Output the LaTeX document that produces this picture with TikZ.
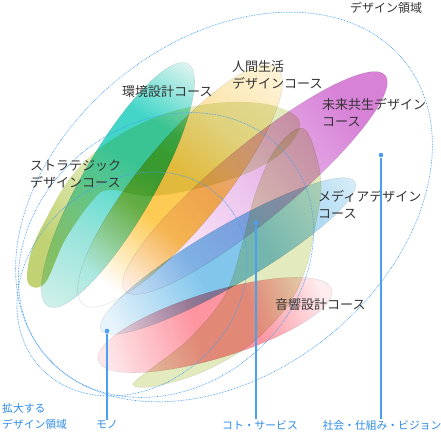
\documentclass[tikz,border=0pt]{standalone}
\usepackage{fontspec}
\newfontfamily\jpfont{Noto Sans CJK JP}
\definecolor{dotblue}{HTML}{4A9FF2}
\definecolor{labelblue}{HTML}{2E8BE6}
\definecolor{labelgray}{HTML}{333333}
\definecolor{paleolive}{HTML}{E2EABA}
\definecolor{midolive}{HTML}{D3DF98}
\definecolor{deepolive}{HTML}{BDD06C}
\definecolor{kk1}{HTML}{CDEFE9}\definecolor{kk2}{HTML}{8FE2D8}\definecolor{kk3}{HTML}{38D3C5}\definecolor{kk4}{HTML}{DDF3EF}
\definecolor{ng1}{HTML}{FFFFFF}\definecolor{ng2}{HTML}{FDC84A}\definecolor{ng3}{HTML}{FCE3A4}\definecolor{ng4}{HTML}{FDF3D8}
\definecolor{mr1}{HTML}{FDF5FD}\definecolor{mr2}{HTML}{ECC2EC}\definecolor{mr3}{HTML}{D57AD5}
\definecolor{md1}{HTML}{E6F3FB}\definecolor{md2}{HTML}{7CC3EB}\definecolor{md3}{HTML}{D6ECF8}
\definecolor{ok1}{HTML}{FDE6E9}\definecolor{ok2}{HTML}{FD8F9C}\definecolor{ok3}{HTML}{FDECEE}
\pgfdeclarehorizontalshading{oliveshade}{100bp}{color(0bp)=(deepolive); color(25bp)=(deepolive); color(36bp)=(midolive); color(46bp)=(paleolive); color(100bp)=(paleolive)}
\pgfdeclarehorizontalshading{kankyoshade}{100bp}{color(0bp)=(kk1); color(25bp)=(kk1); color(40bp)=(kk2); color(55bp)=(kk3); color(63bp)=(kk3); color(75bp)=(kk4); color(100bp)=(kk4)}
\pgfdeclarehorizontalshading{ningenshade}{100bp}{color(0bp)=(ng1); color(30bp)=(ng1); color(43bp)=(ng2); color(52bp)=(ng2); color(62bp)=(ng3); color(75bp)=(ng4); color(100bp)=(ng4)}
\pgfdeclarehorizontalshading{miraishade}{100bp}{color(0bp)=(mr1); color(28bp)=(mr1); color(48bp)=(mr2); color(68bp)=(mr3); color(100bp)=(mr3)}
\pgfdeclarehorizontalshading{mediashade}{100bp}{color(0bp)=(md1); color(27bp)=(md1); color(44bp)=(md2); color(56bp)=(md2); color(75bp)=(md3); color(100bp)=(md3)}
\pgfdeclarehorizontalshading{onkyoshade}{100bp}{color(0bp)=(ok1); color(27bp)=(ok1); color(46bp)=(ok2); color(58bp)=(ok2); color(73bp)=(ok3); color(100bp)=(ok3)}
\begin{document}
\begin{tikzpicture}[x=1pt,y=-1pt,
    course/.style={font=\jpfont\fontsize{13}{17}\selectfont, text=labelgray, anchor=north west, inner sep=0pt, align=left},
    axistext/.style={font=\jpfont\fontsize{10.8}{16}\selectfont, text=labelblue, inner sep=1pt, align=left},
    field/.style={draw=dotblue, line width=0.7pt, dash pattern=on 0.7pt off 0.9pt},
    petal/.style={draw=black!35, line width=0.3pt, fill opacity=0.95, draw opacity=0.45},
    dotnode/.style={circle, fill=dotblue, inner sep=0pt, minimum size=4.6pt},
    stemline/.style={draw=dotblue, line width=1.2pt}]
  \useasboundingbox (0,0) rectangle (441,436);
  \begin{scope}[blend mode=multiply]
    % strategic, upper part
    \shade[petal, draw=none, shading=oliveshade, shading angle=40]
      plot[smooth cycle, tension=0.6] coordinates {
      (28,283) (31,252) (47,217) (70,178) (100,148) (140,124) (185,108) (233,102)
      (275,106) (300,122) (285,150) (250,172) (200,188) (150,196) (110,190)
      (93,200) (65,240) (45,283)};
    % strategic, right part and tail
    \fill[petal, fill=paleolive] plot[smooth cycle, tension=0.6] coordinates {
      (133,384) (150,387) (180,380) (213,367) (252,343) (288,305) (306,268)
      (314,232) (321,190) (316,155) (302,128) (275,150) (255,195) (242,245)
      (225,295) (190,338) (155,366)};
    % kankyo
    \begin{scope}[transform canvas={shift={(118,185)}, rotate=60}]
      \shade[petal, shading=kankyoshade] (0,0) ellipse [x radius=140, y radius=36];
    \end{scope}
    % ningen
    \begin{scope}[transform canvas={shift={(180,186)}, rotate=50.6}]
      \shade[petal, shading=ningenshade] (0,0) ellipse [x radius=153, y radius=42];
    \end{scope}
    % mirai
    \begin{scope}[transform canvas={shift={(255,183)}, rotate=39.6}]
      \shade[petal, shading=miraishade] (0,0) ellipse [x radius=169, y radius=37];
    \end{scope}
    % media
    \begin{scope}[transform canvas={shift={(228,256)}, rotate=30.3}]
      \shade[petal, shading=mediashade] (0,0) ellipse [x radius=147, y radius=29];
    \end{scope}
    % onkyo
    \begin{scope}[transform canvas={shift={(215,325)}, rotate=17}]
      \shade[petal, shading=onkyoshade] (0,0) ellipse [x radius=122, y radius=33];
    \end{scope}
  \end{scope}
  % design fields
  \draw[field, rotate around={39:(224,207)}] (224,207) ellipse [x radius=232, y radius=166];
  \draw[field, rotate around={39:(166,255)}] (166,255) ellipse [x radius=157, y radius=132];
  \draw[field, rotate around={41:(132,284)}] (132,284) ellipse [x radius=124, y radius=102];
  % course labels
  \node[course] (kankyo) at (122,85) {環境設計コース};
  \node[course] (ningen) at (232,60) {人間生活\\デザインコース};
  \node[course] (mirai) at (322,98) {未来共生デザイン\\コース};
  \node[course] (strategic) at (30,160) {ストラテジック\\デザインコース};
  \node[course] (media) at (318,190) {メディアデザイン\\コース};
  \node[course] (onkyo) at (275,298) {音響設計コース};
  \node[course, font=\jpfont\fontsize{12}{15}\selectfont] (field) at (350,2) {デザイン領域};
  % axis
  \node[dotnode] (mono) at (107,331) {};
  \node[dotnode] (koto) at (256,223) {};
  \node[dotnode] (shakai) at (381,155) {};
  \node[axistext] (mono-label) at (107,425) {モノ};
  \node[axistext] (koto-label) at (260,425) {コト・サービス};
  \node[axistext] (shakai-label) at (382,425) {社会・仕組み・ビジョン};
  \node[axistext, anchor=north west] (kakudai) at (1,402) {拡大する\\デザイン領域};
  \draw[stemline] (mono) -- (mono |- mono-label.north);
  \draw[stemline] (koto) -- (koto |- koto-label.north);
  \draw[stemline] (shakai) -- (shakai |- shakai-label.north);
\end{tikzpicture}
\end{document}
